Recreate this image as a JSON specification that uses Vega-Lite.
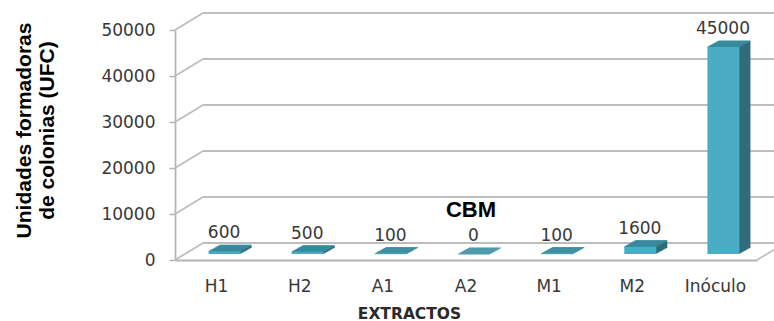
{
  "$schema": "https://vega.github.io/schema/vega-lite/v6.json",
  "width": 582,
  "height": 230,
  "autosize": "none",
  "padding": {"left": 175, "top": 30, "right": 17, "bottom": 61},
  "background": "white",
  "config": {"view": {"stroke": null}, "font": "DejaVu Sans"},
  "datasets": {
    "ufc": [
      {"extracto": "H1", "ufc": 600},
      {"extracto": "H2", "ufc": 500},
      {"extracto": "A1", "ufc": 100},
      {"extracto": "A2", "ufc": 0},
      {"extracto": "M1", "ufc": 100},
      {"extracto": "M2", "ufc": 1600},
      {"extracto": "Inóculo", "ufc": 45000}
    ],
    "gridlines": [
      {"v": 0}, {"v": 10000}, {"v": 20000}, {"v": 30000}, {"v": 40000}, {"v": 50000}
    ]
  },
  "encoding": {
    "x": {
      "field": "extracto", "type": "nominal", "sort": null,
      "scale": {"domain": ["H1", "H2", "A1", "A2", "M1", "M2", "Inóculo"], "paddingInner": 0.615, "paddingOuter": 0.3075},
      "axis": {
        "domainColor": "#b5b5b5", "domainWidth": 1.8,
        "ticks": false, "tickSize": 0,
        "labelAngle": 0, "labelAlign": "center", "labelPadding": 31, "labelBaseline": "alphabetic",
        "labelFont": "DejaVu Sans", "labelFontSize": 17, "labelColor": "#383838",
        "title": "EXTRACTOS", "titleFont": "DejaVu Sans", "titleFontWeight": "bold",
        "titleFontSize": 15.5, "titleColor": "#2a2a2a",
        "titleX": 234, "titleY": 58, "titleAlign": "center", "titleBaseline": "alphabetic"
      }
    },
    "y": {
      "field": "ufc", "type": "quantitative",
      "scale": {"domain": [0, 50000], "nice": false, "zero": true},
      "axis": {
        "values": [0, 10000, 20000, 30000, 40000, 50000], "format": "d",
        "grid": false,
        "domainColor": "#b5b5b5", "domainWidth": 1.8,
        "tickColor": "#b5b5b5", "tickWidth": 1.5, "tickSize": 6,
        "labelFont": "DejaVu Sans", "labelFontSize": 17, "labelColor": "#383838", "labelPadding": 14,
        "labelAlign": "right", "labelBaseline": "middle",
        "title": ["Unidades formadoras", "de colonias (UFC)"],
        "titleFont": "Liberation Sans", "titleFontSize": 21, "titleFontWeight": "bold",
        "titleColor": "#000000", "titleLineHeight": 23,
        "titleAngle": -90, "titleX": -145, "titleY": 100,
        "titleAlign": "center", "titleBaseline": "alphabetic"
      }
    }
  },
  "layer": [
    {
      "data": {"name": "gridlines"},
      "mark": {"type": "rule", "color": "#bdbdbd", "strokeWidth": 1.8, "y2Offset": -17},
      "encoding": {
        "x": {"value": 0}, "x2": {"value": 28},
        "y": {"field": "v", "type": "quantitative"},
        "y2": {"field": "v"}
      }
    },
    {
      "data": {"name": "gridlines"},
      "mark": {"type": "rule", "color": "#bdbdbd", "strokeWidth": 1.8, "yOffset": -17},
      "encoding": {
        "x": {"value": 28}, "x2": {"value": 610},
        "y": {"field": "v", "type": "quantitative"}
      }
    },
    {
      "data": {"name": "gridlines"},
      "transform": [{"filter": "datum.v === 0"}],
      "mark": {"type": "rule", "color": "#bdbdbd", "strokeWidth": 1.8, "y2Offset": -17},
      "encoding": {
        "x": {"value": 582}, "x2": {"value": 610},
        "y": {"field": "v", "type": "quantitative"},
        "y2": {"field": "v"}
      }
    },
    {
      "data": {"name": "ufc"},
      "layer": [
        {"mark": {"type": "bar", "color": "#2e6c7a", "xOffset": 19, "yOffset": -12.05, "y2Offset": -12.05}, "encoding": {"y2": {"datum": 0}}},
        {"mark": {"type": "bar", "color": "#2e6c7a", "xOffset": 18, "yOffset": -11.5, "y2Offset": -11.5}, "encoding": {"y2": {"datum": 0}}},
        {"mark": {"type": "bar", "color": "#2e6c7a", "xOffset": 17, "yOffset": -10.95, "y2Offset": -10.95}, "encoding": {"y2": {"datum": 0}}},
        {"mark": {"type": "bar", "color": "#2e6c7a", "xOffset": 16, "yOffset": -10.4, "y2Offset": -10.4}, "encoding": {"y2": {"datum": 0}}},
        {"mark": {"type": "bar", "color": "#2e6c7a", "xOffset": 15, "yOffset": -9.85, "y2Offset": -9.85}, "encoding": {"y2": {"datum": 0}}},
        {"mark": {"type": "bar", "color": "#2e6c7a", "xOffset": 14, "yOffset": -9.3, "y2Offset": -9.3}, "encoding": {"y2": {"datum": 0}}},
        {"mark": {"type": "bar", "color": "#2e6c7a", "xOffset": 13, "yOffset": -8.75, "y2Offset": -8.75}, "encoding": {"y2": {"datum": 0}}},
        {"mark": {"type": "bar", "color": "#2e6c7a", "xOffset": 12, "yOffset": -8.2, "y2Offset": -8.2}, "encoding": {"y2": {"datum": 0}}},
        {"mark": {"type": "bar", "color": "#2e6c7a", "xOffset": 11, "yOffset": -7.65, "y2Offset": -7.65}, "encoding": {"y2": {"datum": 0}}},
        {"mark": {"type": "bar", "color": "#2e6c7a", "xOffset": 10, "yOffset": -7.1, "y2Offset": -7.1}, "encoding": {"y2": {"datum": 0}}},
        {"mark": {"type": "bar", "color": "#2e6c7a", "xOffset": 9, "yOffset": -6.55, "y2Offset": -6.55}, "encoding": {"y2": {"datum": 0}}},
        {"mark": {"type": "tick", "color": "#3a8fa3", "size": 32, "thickness": 1.2, "xOffset": 19, "yOffset": -12.05}},
        {"mark": {"type": "tick", "color": "#3a8fa3", "size": 32, "thickness": 1.2, "xOffset": 18, "yOffset": -11.5}},
        {"mark": {"type": "tick", "color": "#3a8fa3", "size": 32, "thickness": 1.2, "xOffset": 17, "yOffset": -10.95}},
        {"mark": {"type": "tick", "color": "#3a8fa3", "size": 32, "thickness": 1.2, "xOffset": 16, "yOffset": -10.4}},
        {"mark": {"type": "tick", "color": "#3a8fa3", "size": 32, "thickness": 1.2, "xOffset": 15, "yOffset": -9.85}},
        {"mark": {"type": "tick", "color": "#3a8fa3", "size": 32, "thickness": 1.2, "xOffset": 14, "yOffset": -9.3}},
        {"mark": {"type": "tick", "color": "#3a8fa3", "size": 32, "thickness": 1.2, "xOffset": 13, "yOffset": -8.75}},
        {"mark": {"type": "tick", "color": "#3a8fa3", "size": 32, "thickness": 1.2, "xOffset": 12, "yOffset": -8.2}},
        {"mark": {"type": "tick", "color": "#3a8fa3", "size": 32, "thickness": 1.2, "xOffset": 11, "yOffset": -7.65}},
        {"mark": {"type": "tick", "color": "#3a8fa3", "size": 32, "thickness": 1.2, "xOffset": 10, "yOffset": -7.1}},
        {"mark": {"type": "tick", "color": "#3a8fa3", "size": 32, "thickness": 1.2, "xOffset": 9, "yOffset": -6.55}},
        {"mark": {"type": "tick", "color": "#3a8fa3", "size": 32, "thickness": 1.2, "xOffset": 8, "yOffset": -6}},
        {"mark": {"type": "bar", "color": "#4aabc5", "xOffset": 8, "yOffset": -6, "y2Offset": -6}, "encoding": {"y2": {"datum": 0}}},
        {
          "mark": {"type": "text", "font": "DejaVu Sans", "fontSize": 17, "color": "#383838", "dx": 7.5, "dy": -19, "baseline": "alphabetic", "align": "center"},
          "encoding": {"text": {"field": "ufc", "type": "quantitative", "format": "d"}}
        }
      ]
    },
    {
      "data": {"values": [{"nota": "CBM", "extracto": "A2", "ufc": 10000}]},
      "mark": {"type": "text", "font": "Liberation Sans", "fontWeight": "bold", "fontSize": 22, "color": "#000000", "dx": 5, "dy": 3, "baseline": "alphabetic", "align": "center"},
      "encoding": {
        "text": {"field": "nota", "type": "nominal"}
      }
    }
  ]
}
